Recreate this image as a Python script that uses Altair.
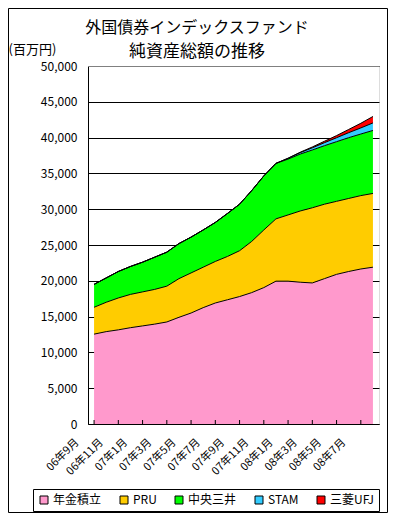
import altair as alt
import pandas as pd

MONTHS = ["06年9月", "06年10月", "06年11月", "06年12月",
          "07年1月", "07年2月", "07年3月", "07年4月", "07年5月", "07年6月",
          "07年7月", "07年8月", "07年9月", "07年10月", "07年11月", "07年12月",
          "08年1月", "08年2月", "08年3月", "08年4月", "08年5月", "08年6月",
          "08年7月", "08年8月"]
X_LABELS = MONTHS[::2]

SERIES = ["年金積立", "PRU", "中央三井", "STAM", "三菱UFJ"]
COLORS = ["#FF99CC", "#FFCC00", "#00FF00", "#33CCFF", "#FF0000"]

NENKIN = [12550, 12900, 13150, 13450, 13700, 13950, 14250, 14900, 15500, 16250,
          16900, 17350, 17800, 18350, 19050, 19950, 19950, 19800, 19700, 20300,
          20900, 21300, 21650, 21900]
PRU = [3750, 4100, 4450, 4650, 4750, 4850, 5000, 5400, 5600, 5650,
       5800, 6050, 6400, 7150, 8050, 8700, 9250, 9950, 10500, 10400,
       10200, 10200, 10250, 10300]
CHUO = [3200, 3400, 3700, 3900, 4150, 4500, 4750, 4900, 5000, 5200,
        5450, 6000, 6500, 7100, 7550, 7750, 7800, 7950, 8070, 8170,
        8330, 8490, 8600, 8800]
STAM = [0, 0, 0, 0, 0, 0, 0, 0, 0, 0,
        0, 0, 0, 0, 0, 0, 100, 200, 300, 420,
        550, 700, 850, 1050]
UFJ = [0, 0, 0, 0, 0, 0, 0, 0, 0, 0,
       0, 0, 0, 0, 0, 0, 30, 60, 120, 200,
       300, 450, 650, 900]

TITLE_LINES = ["外国債券インデックスファンド", "純資産総額の推移"]
Y_UNIT = "(百万円)"
Y_TICKS = list(range(0, 50001, 5000))

FONT = "Noto Sans CJK JP"
W, H = 291, 358

rows = []
for k, (name, vals) in enumerate(zip(SERIES, [NENKIN, PRU, CHUO, STAM, UFJ])):
    for m, v in zip(MONTHS, vals):
        rows.append({"month": m, "series": name, "value": v, "ord": k})
df = pd.DataFrame(rows)

x_enc = alt.X(
    "month:O", sort=MONTHS, scale=alt.Scale(padding=0),
    axis=alt.Axis(values=X_LABELS, labelAngle=315, labelAlign="right",
                  labelBaseline="top", labelPadding=12, labelOffset=-21,
                  ticks=False, domainColor="black", domainWidth=1,
                  labelFontSize=11, labelFont=FONT, labelColor="black",
                  labelOverlap=False, grid=False, title=""),
)

y_axis = alt.Axis(values=Y_TICKS, format=",d", ticks=False, labelPadding=11,
                  labelOverlap=False,
                  labelFontSize=12, labelFont=FONT, labelColor="black",
                  domainColor="black", domainWidth=1,
                  grid=True, gridColor="black", gridOpacity=1, gridWidth=1,
                  title=Y_UNIT, titleAngle=0, titleX=-80, titleY=-13,
                  titleAlign="left", titleBaseline="alphabetic", titleFont=FONT,
                  titleFontSize=13, titleFontWeight="normal", titleColor="black")

y_enc = alt.Y("y1:Q", scale=alt.Scale(domain=[0, 50000], nice=False), axis=y_axis)

base = alt.Chart(df).transform_stack(
    stack="value", groupby=["month"], as_=["y0", "y1"],
    sort=[alt.SortField("ord", order="ascending")],
)

areas = base.mark_area(opacity=1).encode(
    x=x_enc,
    y=y_enc,
    y2="y0:Q",
    color=alt.Color(
        "series:N",
        scale=alt.Scale(domain=SERIES, range=COLORS),
        legend=alt.Legend(orient="none", legendX=-55, legendY=423,
                          direction="horizontal", title=None,
                          symbolType="square", symbolSize=64,
                          symbolStrokeColor="black", symbolStrokeWidth=1,
                          symbolOpacity=1, labelFontSize=12, labelFont=FONT,
                          labelColor="black", columnPadding=16, padding=5,
                          labelOffset=3, strokeColor="black", fillColor="white"),
    ),
)

lines = base.mark_line(color="black", strokeWidth=1).encode(
    x=x_enc, y=y_enc, detail="series:N",
)

ticks = alt.Chart(pd.DataFrame({"month": X_LABELS})).mark_rule(
    color="black", strokeWidth=1
).encode(x=alt.X("month:O", sort=MONTHS), y=alt.value(H - 4), y2=alt.value(H))

top_edge = alt.Chart(pd.DataFrame({"a": [0]})).mark_rule(
    color="#808080", strokeWidth=1
).encode(x=alt.value(0), x2=alt.value(W), y=alt.value(0.5))

frame = alt.Chart(pd.DataFrame({"a": [0]})).mark_rect(
    filled=False, stroke="black", strokeWidth=1
).encode(x=alt.value(-79.5), x2=alt.value(299.5), y=alt.value(-57.5), y2=alt.value(446.5))

t1 = alt.Chart(pd.DataFrame({"t": [TITLE_LINES[0]]})).mark_text(
    font=FONT, fontSize=16, align="center", baseline="alphabetic", color="black"
).encode(text="t:N", x=alt.value(109), y=alt.value(-33))

t2 = alt.Chart(pd.DataFrame({"t": [TITLE_LINES[1]]})).mark_text(
    font=FONT, fontSize=17, align="center", baseline="alphabetic", color="black"
).encode(text="t:N", x=alt.value(109), y=alt.value(-9))

chart = alt.layer(frame, areas, lines, ticks, top_edge, t1, t2).properties(
    width=W, height=H,
    padding={"left": 80, "top": 58, "right": 9, "bottom": 89},
    autosize="none",
).configure_view(stroke="#808080", strokeWidth=1).configure(background="white")

chart.save("out.html", embed_options={"renderer": "svg", "actions": False})
